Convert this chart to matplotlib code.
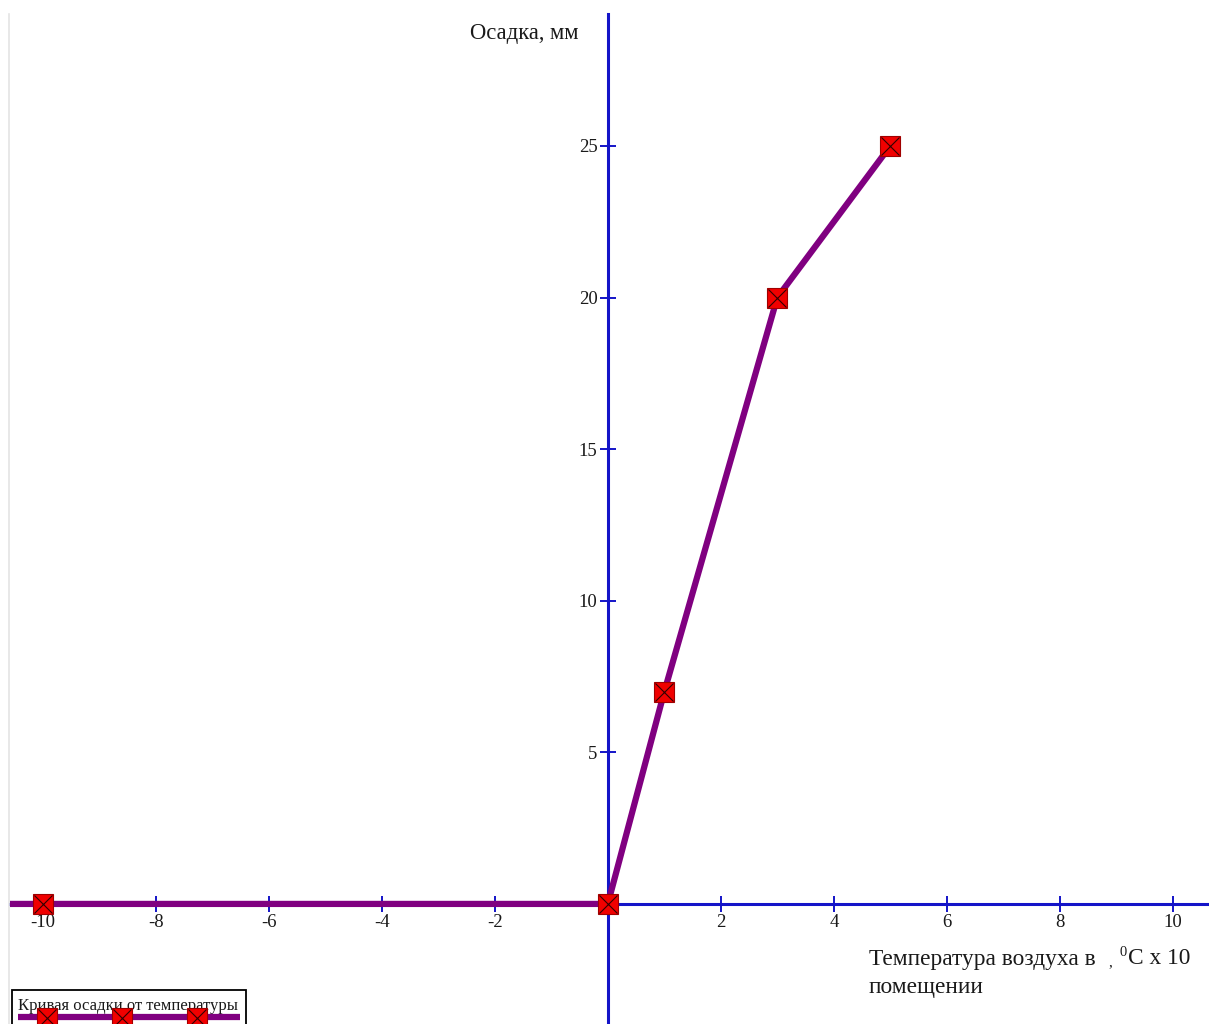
import matplotlib
matplotlib.use("Agg")
import matplotlib.pyplot as plt
from matplotlib.lines import Line2D
from matplotlib.patches import Rectangle

# Settlement of the floor versus indoor air temperature
temperature = [-12, -10, 0, 1, 3, 5]          # °C x 10
settlement = [0, 0, 0, 7, 20, 25]             # mm
x_ticks = [-10, -8, -6, -4, -2, 2, 4, 6, 8, 10]
y_ticks = [5, 10, 15, 20, 25]
series_name = "Кривая осадки от температуры"
y_title = "Осадка, мм"
x_title_1 = "Температура воздуха в"
x_title_unit = "C x 10"
x_title_2 = "помещении"

W, H = 1209, 1024
SERIF = ["Liberation Serif", "DejaVu Serif"]
AXIS_BLUE = "#1414c8"
PURPLE = "#800080"
RED = "#f00000"
TEXT = "#1a1a1a"

fig = plt.figure(figsize=(W / 100, H / 100), dpi=100)
fig.patch.set_facecolor("white")

ax = fig.add_axes([10 / W, 0, 1 - 10 / W, 1 - 14 / H])
ax.set_xlim(-10.58, 10.64)
ax.set_ylim(-3.96, 29.35)

for side in ("top", "right"):
    ax.spines[side].set_visible(False)
for side in ("left", "bottom"):
    ax.spines[side].set_position("zero")
    ax.spines[side].set_color(AXIS_BLUE)
    ax.spines[side].set_linewidth(2.2)

ax.set_xticks(x_ticks)
ax.set_yticks(y_ticks)
ax.set_xticklabels([str(t) for t in x_ticks])
ax.set_yticklabels([str(t) for t in y_ticks])
ax.tick_params(axis="both", direction="inout", length=12, width=1.4,
               color=AXIS_BLUE, labelsize=13.5, labelcolor=TEXT)
ax.tick_params(axis="x", pad=1.5)
ax.tick_params(axis="y", pad=1.5)
for lbl in ax.get_xticklabels() + ax.get_yticklabels():
    lbl.set_family(SERIF)

# the curve: thick purple line, red square markers with a dark cross
ax.plot(temperature, settlement, color=PURPLE, lw=4.5, zorder=3,
        solid_capstyle="butt", clip_on=True)
ax.plot(temperature, settlement, ls="none", marker="s", ms=14,
        mfc=RED, mec="#a00000", mew=0.8, zorder=4, clip_on=True)
ax.plot(temperature, settlement, ls="none", marker="x", ms=12.5,
        mec="#300000", mew=0.8, zorder=5, clip_on=True)

ax.set_facecolor("none")

# axis titles
fig.text(470 / W, 1 - 33 / H, y_title, family=SERIF, fontsize=16.3,
         color=TEXT, ha="left", va="center")
fig.text(869 / W, 1 - 959 / H, x_title_1, family=SERIF, fontsize=16.8,
         color=TEXT, ha="left", va="center")
fig.text(1108 / W, 1 - 963 / H, ",", family=SERIF, fontsize=11,
         color=TEXT, ha="left", va="center")
fig.text(1120 / W, 1 - 952 / H, "0", family=SERIF, fontsize=10.5,
         color=TEXT, ha="left", va="center")
fig.text(1128 / W, 1 - 959 / H, x_title_unit, family=SERIF,
         fontsize=16.8, color=TEXT, ha="left", va="center")
fig.text(869 / W, 1 - 987 / H, x_title_2, family=SERIF, fontsize=16.8,
         color=TEXT, ha="left", va="center")

# faint frame edge on the left
fig.add_artist(Line2D([8.5 / W, 8.5 / W], [0, 1 - 14 / H],
                      transform=fig.transFigure, color="#e4e4e4", lw=1.2))

# legend box in the lower-left corner
fig.add_artist(Rectangle((12 / W, -0.02), (246 - 12) / W, 0.02 + (1024 - 990) / H,
                         transform=fig.transFigure, fill=True, facecolor="white",
                         edgecolor="black", lw=1.3, zorder=10))
fig.text(18 / W, 1 - 1006 / H, series_name, family=SERIF, fontsize=12,
         color=TEXT, ha="left", va="center", zorder=11)
fig.add_artist(Line2D([18 / W, 240 / W], [1 - 1017 / H] * 2,
                      transform=fig.transFigure, color=PURPLE, lw=4.5,
                      solid_capstyle="butt", zorder=12))
sample_x = [47 / W, 122 / W, 197 / W]
fig.add_artist(Line2D(sample_x, [1 - 1018 / H] * 3, transform=fig.transFigure,
                      ls="none", marker="s", ms=14, mfc=RED, mec="#a00000",
                      mew=0.8, zorder=13))
fig.add_artist(Line2D(sample_x, [1 - 1018 / H] * 3, transform=fig.transFigure,
                      ls="none", marker="x", ms=12.5, mec="#300000",
                      mew=0.8, zorder=14))

fig.savefig("out.png", dpi=100)
